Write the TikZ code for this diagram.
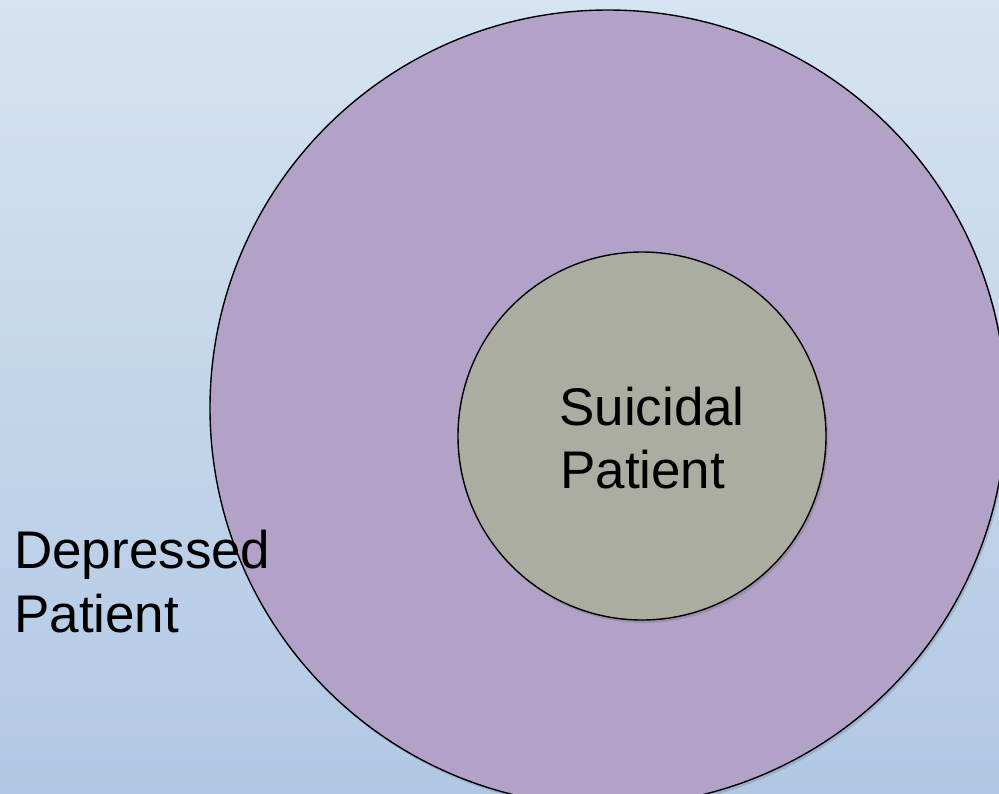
\documentclass[tikz,border=0pt]{standalone}
\usepackage{fontspec}
\setmainfont{Liberation Sans}
\definecolor{bgtop}{RGB}{214,227,241}
\definecolor{bgbot}{RGB}{177,200,228}
\definecolor{outerfill}{RGB}{178,162,199}
\definecolor{innerfill}{RGB}{170,173,160}
\tikzset{
  lbl/.style={anchor=base west, inner sep=0pt, font=\fontsize{53}{64}\selectfont, text=black},
  ring/.style={draw=black, line width=1.4pt},
}
\begin{document}
\begin{tikzpicture}[x=1pt,y=-1pt]
\useasboundingbox (0,0) rectangle (999,793);
\shade[top color=bgtop, bottom color=bgbot] (0,0) rectangle (999,793);
\begin{scope}
\clip (0,0) rectangle (999,793);
\fill[black, opacity=0.12] (610,411) circle[radius=398];
\node[circle, ring, fill=outerfill, minimum size=796pt, inner sep=0pt] (outer) at (608,408) {};
\fill[black, opacity=0.12] (644,439) circle[radius=184];
\node[circle, ring, fill=innerfill, minimum size=368pt, inner sep=0pt] (inner) at (642,436) {};
\end{scope}
\node[lbl] (s1) at (559,425) {Suicidal};
\node[lbl] (s2) at (560,488) {Patient};
\node[lbl] (d1) at (14,568) {Depressed};
\node[lbl] (d2) at (14,632) {Patient};
\end{tikzpicture}
\end{document}
